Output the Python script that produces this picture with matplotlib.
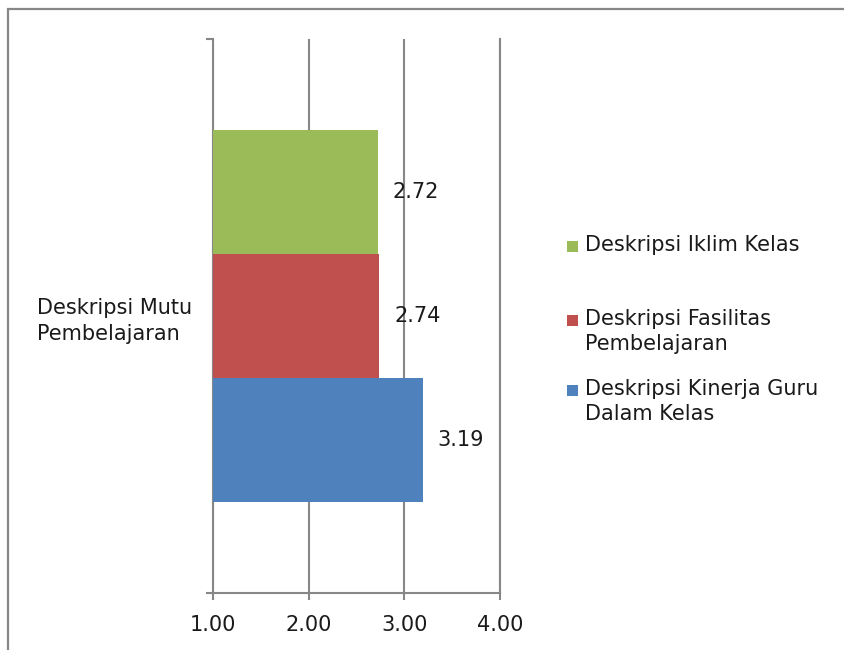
import matplotlib
matplotlib.use("Agg")

import matplotlib.patches as mpatches
import matplotlib.pyplot as plt

# ── Data ─────────────────────────────────────────────────────────────────────
category = "Deskripsi Mutu\nPembelajaran"
series_labels = [
    "Deskripsi Kinerja Guru\nDalam Kelas",
    "Deskripsi Fasilitas\nPembelajaran",
    "Deskripsi Iklim Kelas",
]
series_values = [3.19, 2.74, 2.72]
x_ticks = [1.0, 2.0, 3.0, 4.0]

# ── Style ────────────────────────────────────────────────────────────────────
_COLORS = ["#4F81BD", "#C0504D", "#9BBB59"]
_GRID = "#878787"
_TEXT = "#1a1a1a"
_FS = 15

plt.rcParams["font.family"] = ["DejaVu Sans"]

fig = plt.figure(figsize=(8.45, 6.5), dpi=100)
fig.patch.set_facecolor("white")

# Outer chart-area frame (runs off the right and bottom edges)
fig.add_artist(mpatches.Rectangle(
    (8 / 845, -0.1), 1.2, 1 - 9 / 650 + 0.1,
    transform=fig.transFigure, fill=False, edgecolor=_GRID, linewidth=1.6,
))

ax = fig.add_axes([213 / 845, 1 - 593 / 650, 287 / 845, 554 / 650])

bar_h = 0.2238
offsets = [-bar_h, 0.0, bar_h]
for val, off, col in zip(series_values, offsets, _COLORS):
    bars = ax.barh(0 + off, val - 1.0, left=1.0, height=bar_h,
                   color=col, edgecolor="none", zorder=3)
    ax.bar_label(bars, labels=[f"{val:.2f}"], padding=11,
                 fontsize=_FS, color=_TEXT)

ax.set_xlim(1.0, 4.0)
ax.set_ylim(-0.5, 0.5)
ax.set_xticks(x_ticks)
ax.set_xticklabels([f"{t:.2f}" for t in x_ticks], fontsize=_FS, color=_TEXT)
ax.set_yticks([0])
ax.set_yticklabels([category], fontsize=_FS, color=_TEXT,
                   multialignment="left", linespacing=1.35)
ax.set_yticks([-0.5, 0.5], minor=True)

ax.grid(axis="x", color=_GRID, linewidth=1.5, zorder=0)
ax.set_axisbelow(True)

ax.spines["top"].set_visible(False)
for side in ("left", "bottom", "right"):
    ax.spines[side].set_color(_GRID)
    ax.spines[side].set_linewidth(1.5)

ax.tick_params(axis="x", length=5, width=1.5, color=_GRID, pad=11)
ax.tick_params(axis="y", which="major", length=0, pad=15)
ax.tick_params(axis="y", which="minor", length=5, width=1.5, color=_GRID)

# ── Legend (Excel-style, handle aligned with first line) ────────────────────
legend_rows = [  # (series index, top y in pixels)
    (2, 235),
    (1, 309),
    (0, 379),
]
for idx, y_px in legend_rows:
    fig.add_artist(mpatches.Rectangle(
        (567 / 845, 1 - (y_px + 17) / 650), 11 / 845, 11 / 650,
        transform=fig.transFigure, facecolor=_COLORS[idx], edgecolor="none",
    ))
    fig.text(585 / 845, 1 - y_px / 650, series_labels[idx],
             ha="left", va="top", fontsize=_FS, color=_TEXT,
             linespacing=1.3)

fig.savefig("out.png", dpi=100, facecolor="white")
plt.close(fig)
